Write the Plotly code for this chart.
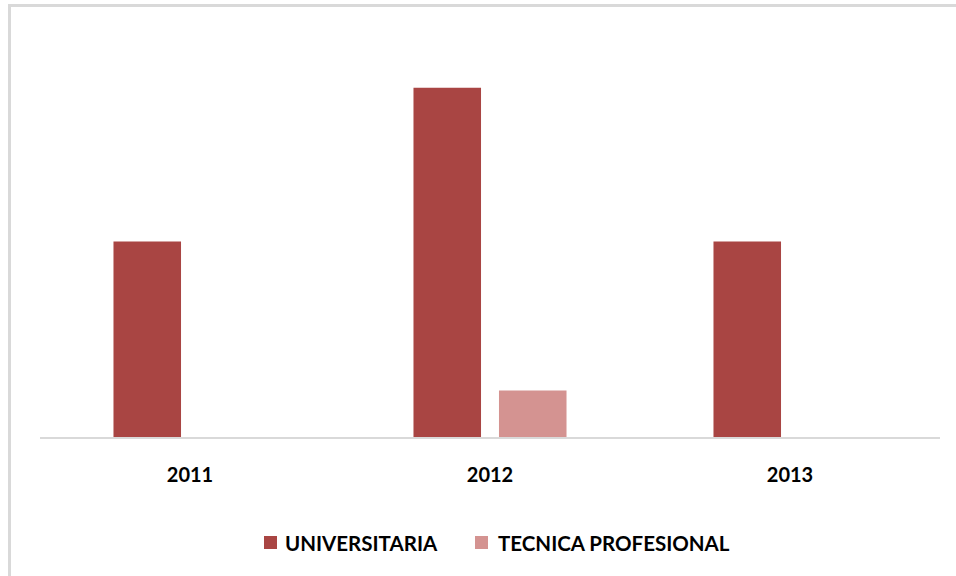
import plotly.graph_objects as go

years = ["2011", "2012", "2013"]
universitaria = [16.8, 30, 16.8]
tecnica = [None, 4, None]
series_names = ["UNIVERSITARIA", "TECNICA PROFESIONAL"]
series_colors = ["#A94543", "#D49391"]

FONT = "Lato"

fig = go.Figure()
fig.add_trace(go.Bar(x=years, y=universitaria, name=series_names[0],
                     marker=dict(color=series_colors[0], line=dict(width=0))))
fig.add_trace(go.Bar(x=years, y=tecnica, name=series_names[1],
                     marker=dict(color=series_colors[1], line=dict(width=0))))

L, R, T, B = 40, 16, 18, 139
W, H = 956, 576
pw = W - L - R
ph = H - T - B

def px_x(p):
    return (p - L) / pw

def px_y(p):
    return (H - B - p) / ph

shapes = [dict(type="rect", xref="paper", yref="paper",
               x0=px_x(9.5), x1=px_x(1000), y0=px_y(700), y1=px_y(5.5),
               line=dict(color="#d9d9d9", width=3), fillcolor="rgba(0,0,0,0)", layer="below")]
annotations = []
legend_sq_x = [264, 475]
legend_txt_x = [283, 496]
for name, col, sx, tx in zip(series_names, series_colors, legend_sq_x, legend_txt_x):
    shapes.append(dict(type="rect", xref="paper", yref="paper",
                       x0=px_x(sx), x1=px_x(sx + 13), y0=px_y(549), y1=px_y(536),
                       line=dict(width=0), fillcolor=col))
    annotations.append(dict(xref="paper", yref="paper", x=px_x(tx), y=px_y(542.5),
                            xanchor="left", yanchor="middle", showarrow=False, text=name,
                            font=dict(family=FONT, size=20.5, color="#000000", weight="bold")))

fig.update_layout(
    width=W, height=H,
    margin=dict(l=L, r=R, t=T, b=B, pad=0),
    paper_bgcolor="white", plot_bgcolor="white",
    barmode="group", bargap=0.43, bargroupgap=0.21,
    font=dict(family=FONT, color="#000000"),
    xaxis=dict(showgrid=False, showline=True, linecolor="#d9d9d9", linewidth=2,
               ticks="", tickfont=dict(family=FONT, size=20, color="#000000", weight="bold"),
               ticklabelstandoff=19),
    yaxis=dict(visible=False, range=[0, 36]),
    showlegend=False,
    shapes=shapes,
    annotations=annotations,
)

fig.write_html("out.html", config={"displayModeBar": False},
               post_script="document.body.style.margin='0';document.body.style.overflow='hidden';")
